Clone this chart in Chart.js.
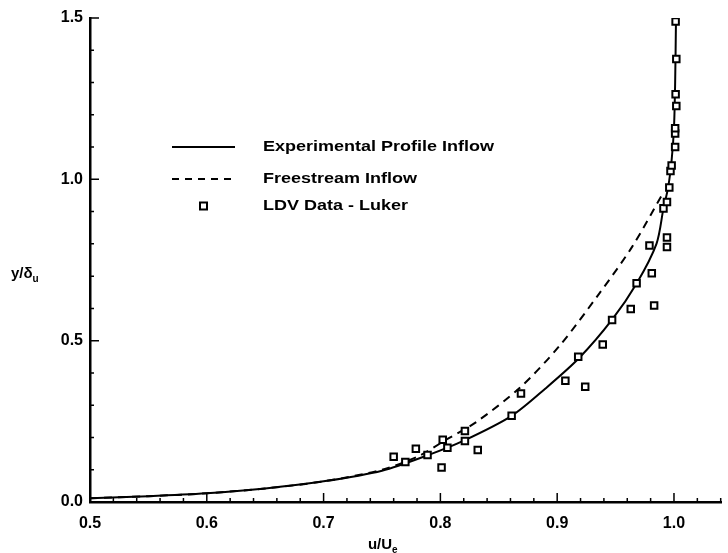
<!DOCTYPE html>
<html>
<head>
<meta charset="utf-8">
<script src="https://cdn.jsdelivr.net/npm/chart.js@4/dist/chart.umd.min.js"></script>
<style>
  html, body { margin: 0; padding: 0; background: #fff; overflow: hidden; }
  #wrap { width: 728px; height: 553px; position: relative; }
</style>
</head>
<body>
<div id="wrap"><canvas id="profil" width="728" height="553"></canvas></div>
<script>
// tick labels
const xTicks = [0.5, 0.6, 0.7, 0.8, 0.9, 1.0]
const yTicks = [0.0, 0.5, 1.0, 1.5]

// Experimental Profile Inflow (solid)
const expX = [0.5, 0.55, 0.6, 0.65, 0.7, 0.75, 0.79, 0.82, 0.861, 0.89, 0.919, 0.947, 0.968, 0.985, 0.991, 0.995, 0.998, 1.0, 1.001, 1.0017]
const expY = [0.012, 0.018, 0.027, 0.042, 0.064, 0.097, 0.146, 0.19, 0.267, 0.352, 0.447, 0.565, 0.677, 0.8, 0.91, 0.975, 1.06, 1.16, 1.3, 1.49]

// Freestream Inflow (dashed)
const freeX = [0.5, 0.55, 0.6, 0.65, 0.7, 0.75, 0.78, 0.805, 0.83, 0.868, 0.902, 0.936, 0.964, 0.991]
const freeY = [0.012, 0.018, 0.027, 0.042, 0.064, 0.1, 0.14, 0.193, 0.246, 0.354, 0.484, 0.646, 0.79, 0.96]

// LDV Data - Luker
const ldvX = [0.760, 0.770, 0.779, 0.789, 0.802, 0.801, 0.806, 0.821, 0.821, 0.832, 0.861, 0.869, 0.907, 0.924, 0.918, 0.939, 0.947, 0.963, 0.968, 0.981, 0.983, 0.979, 0.994, 0.994, 0.991, 0.994, 0.996, 0.997, 0.998, 1.001, 1.001, 1.001, 1.002, 1.0014, 1.002, 1.0014]
const ldvY = [0.140, 0.124, 0.165, 0.146, 0.193, 0.107, 0.168, 0.220, 0.189, 0.161, 0.267, 0.336, 0.376, 0.357, 0.450, 0.488, 0.564, 0.598, 0.678, 0.709, 0.609, 0.795, 0.820, 0.790, 0.910, 0.930, 0.975, 1.026, 1.043, 1.100, 1.142, 1.158, 1.227, 1.264, 1.373, 1.489]

const toPts = (xs, ys) => xs.map((x, i) => ({x: x, y: ys[i]}))

const FONT = '"Liberation Sans", Arial, sans-serif'

// ticks pointing inward + legend + axis titles
const decor = {
    id: 'decor',
    afterDraw(chart) {
        const ctx = chart.ctx
        const xs = chart.scales.x
        const ys = chart.scales.y
        const a = chart.chartArea
        ctx.save()
        ctx.strokeStyle = '#000'
        ctx.lineWidth = 1.5
        ctx.beginPath()
        for (let i = 0; i <= 27; i++) {
            const v = 0.5 + i * 0.02
            const px = xs.getPixelForValue(v)
            const len = (i % 5 === 0) ? 9 : 4
            ctx.moveTo(px, a.bottom)
            ctx.lineTo(px, a.bottom - len)
        }
        for (let i = 0; i <= 15; i++) {
            const py = ys.getPixelForValue(i * 0.1)
            const len = (i % 5 === 0) ? 9 : 4
            ctx.moveTo(a.left, py)
            ctx.lineTo(a.left + len, py)
        }
        ctx.stroke()

        // legend
        const lx = a.left + 82
        const tx = a.left + 173
        const rows = [a.top + 129, a.top + 161, a.top + 188]
        ctx.lineWidth = 2
        ctx.beginPath()
        ctx.moveTo(lx, rows[0]); ctx.lineTo(lx + 63, rows[0])
        ctx.stroke()
        ctx.setLineDash([7, 6])
        ctx.beginPath()
        ctx.moveTo(lx, rows[1]); ctx.lineTo(lx + 63, rows[1])
        ctx.stroke()
        ctx.setLineDash([])
        ctx.fillStyle = '#fff'
        ctx.lineWidth = 2
        ctx.fillRect(lx + 28, rows[2] - 3.5, 7, 7)
        ctx.strokeRect(lx + 28, rows[2] - 3.5, 7, 7)

        ctx.fillStyle = '#000'
        ctx.font = 'bold 15px ' + FONT
        ctx.textBaseline = 'middle'
        ctx.textAlign = 'left'
        const labels = ['Experimental Profile Inflow', 'Freestream Inflow', 'LDV Data - Luker']
        labels.forEach((t, i) => {
            ctx.save()
            ctx.translate(tx, rows[i])
            ctx.scale(1.2, 1)
            ctx.fillText(t, 0, 0)
            ctx.restore()
        })

        // axis titles with subscripts
        ctx.textBaseline = 'alphabetic'
        ctx.font = 'bold 15px ' + FONT
        let w = ctx.measureText('u/U').width
        let x0 = a.left + 290 - w / 2
        ctx.fillText('u/U', x0, 549)
        ctx.font = 'bold 10px ' + FONT
        ctx.fillText('e', x0 + w, 553)

        ctx.font = 'bold 15px ' + FONT
        w = ctx.measureText('y/δ').width
        x0 = 11
        ctx.fillText('y/δ', x0, 278)
        ctx.font = 'bold 10px ' + FONT
        ctx.fillText('u', x0 + w, 282)
        ctx.restore()
    }
}

const ctx = document.getElementById('profil').getContext('2d')
const myChart = new Chart(ctx, {
    type: 'scatter',
    data: {
        datasets: [{
            label: 'Experimental Profile Inflow',
            data: toPts(expX, expY),
            showLine: true,
            borderColor: '#000',
            borderWidth: 2,
            pointRadius: 0,
            tension: 0.3,
            order: 2
        }, {
            label: 'Freestream Inflow',
            data: toPts(freeX, freeY),
            showLine: true,
            borderColor: '#000',
            borderWidth: 2,
            borderDash: [8, 6],
            pointRadius: 0,
            tension: 0.3,
            order: 3
        }, {
            label: 'LDV Data - Luker',
            data: toPts(ldvX, ldvY),
            showLine: false,
            pointStyle: 'rect',
            pointRadius: 4.6,
            borderColor: '#000',
            borderWidth: 2,
            backgroundColor: '#fff',
            order: 1
        }]
    },
    options: {
        responsive: false,
        animation: false,
        layout: { padding: { top: 18, left: 0, right: 0, bottom: 0 } },
        plugins: {
            legend: { display: false },
            tooltip: { enabled: false }
        },
        scales: {
            x: {
                type: 'linear',
                min: 0.5,
                max: 1.0406,
                afterBuildTicks: (s) => { s.ticks = xTicks.map(v => ({value: v})) },
                afterFit: (s) => { s.height = 51 },
                grid: { display: false, drawTicks: false },
                border: { display: true, color: '#000', width: 2.5 },
                ticks: {
                    color: '#000',
                    padding: 12,
                    font: { family: FONT, size: 16, weight: 'bold' },
                    callback: (v) => v.toFixed(1)
                }
            },
            y: {
                type: 'linear',
                min: 0,
                max: 1.5,
                afterBuildTicks: (s) => { s.ticks = yTicks.map(v => ({value: v})) },
                afterFit: (s) => { s.width = 90 },
                grid: { display: false, drawTicks: false },
                border: { display: true, color: '#000', width: 2.5 },
                ticks: {
                    color: '#000',
                    padding: 7,
                    font: { family: FONT, size: 16, weight: 'bold' },
                    callback: (v) => v.toFixed(1)
                }
            }
        }
    },
    plugins: [decor]
})
</script>
</body>
</html>
